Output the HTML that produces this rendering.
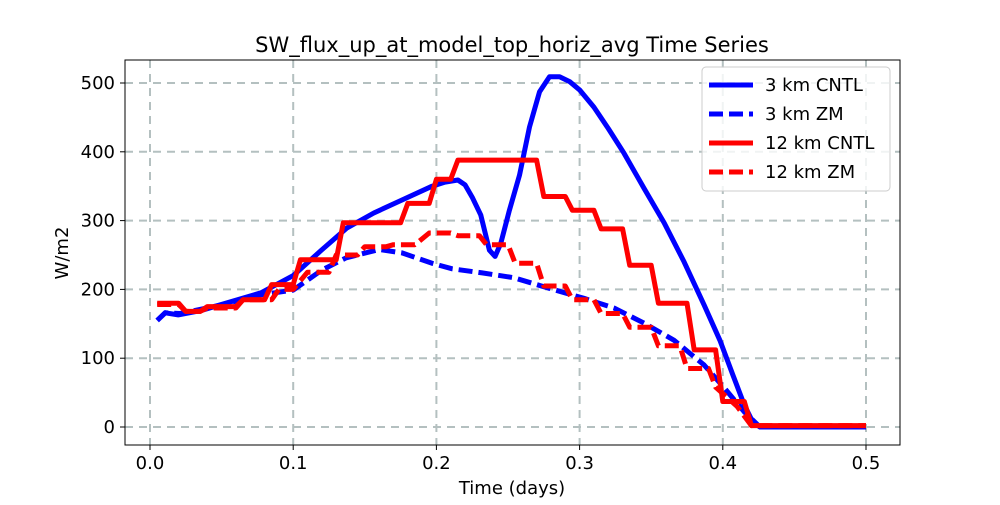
<!DOCTYPE html>
<html><head><meta charset="utf-8">
<style>
body{margin:0;background:#fff;font-family:"Liberation Sans","DejaVu Sans",sans-serif}
svg text{font-family:"DejaVu Sans","Liberation Sans",sans-serif}
</style></head>
<body>
<svg id="chart" width="1000" height="500" viewBox="0 0 1000 500" xmlns="http://www.w3.org/2000/svg">
<rect x="0" y="0" width="1000" height="500" fill="#fff"/>
<text x="512" y="52" font-size="21" text-anchor="middle">SW_flux_up_at_model_top_horiz_avg Time Series</text>
<g id="grid"></g>
<g id="series"></g>
<rect x="125" y="60" width="775" height="385" fill="none" stroke="#000" stroke-width="1"/>
<g id="ticks"></g>
<text x="512" y="494" font-size="18" text-anchor="middle">Time (days)</text>
<text x="68" y="253" font-size="18" text-anchor="middle" transform="rotate(-90 68 253)">W/m2</text>
<g id="legend">
<rect x="702" y="67" width="188" height="124" rx="4" fill="#fff" fill-opacity="0.8" stroke="#ccc"/>
<g><line x1="709" y1="85" x2="753" y2="85" stroke="#0000ff" stroke-width="5"/><text x="765" y="91" font-size="18">3 km CNTL</text></g>
<g><line x1="709" y1="114" x2="753" y2="114" stroke="#0000ff" stroke-width="5" stroke-dasharray="14 6"/><text x="765" y="120" font-size="18">3 km ZM</text></g>
<g><line x1="709" y1="143" x2="753" y2="143" stroke="#ff0000" stroke-width="5"/><text x="765" y="149" font-size="18">12 km CNTL</text></g>
<g><line x1="709" y1="172" x2="753" y2="172" stroke="#ff0000" stroke-width="5" stroke-dasharray="14 6"/><text x="765" y="178" font-size="18">12 km ZM</text></g>
</g>
</svg>
<script>
const xTicks=[0,0.1,0.2,0.3,0.4,0.5];
const xTickLabels=["0.0","0.1","0.2","0.3","0.4","0.5"];
const yTicks=[0,100,200,300,400,500];
const yTickLabels=["0","100","200","300","400","500"];
const cntl3T=[.005,.0106,.0197,.0352,.0563,.0775,.1,.1197,.1373,.1563,.176,.197,.206,.215,.22,.225,.231,.237,.241,.245,.251,.258,.265,.272,.279,.286,.293,.3,.31,.32,.331,.345,.359,.373,.387,.398,.407,.415,.421,.426,.5];
const cntl3V=[155,166,163,169,182,195,220,257,289,311,330,350,356,359,352,334,308,257,248,267,315,366,436,487,509,509,502,490,465,434,398,347,297,240,177,126,76,32,7,0,0];
const zm3T=[.005,.0106,.021,.049,.077,.1,.12,.137,.16,.176,.197,.211,.232,.254,.278,.303,.324,.345,.366,.387,.401,.415,.426,.5];
const zm3V=[155,166,165,177,192,199,228,246,258,253,238,230,224,217,202,187,173,151,126,90,57,22,0,0];
const cntl12T=[.005,.02,.025,.035,.04,.06,.065,.08,.085,.1,.105,.13,.135,.175,.18,.195,.2,.21,.215,.27,.275,.29,.295,.31,.315,.33,.335,.35,.355,.375,.38,.395,.4,.415,.42,.5];
const cntl12V=[180,180,168,168,175,175,185,185,207,207,243,243,297,297,325,325,360,360,388,388,335,335,315,315,288,288,235,235,180,180,112,112,37,37,2,2];
const zm12T=[.005,.02,.025,.035,.04,.06,.065,.085,.09,.1,.11,.125,.13,.145,.15,.165,.17,.185,.195,.21,.215,.23,.235,.25,.255,.27,.275,.29,.295,.31,.315,.33,.335,.35,.355,.37,.375,.39,.395,.41,.42,.5];
const zm12V=[178,178,168,168,173,173,185,185,200,200,225,225,250,250,262,262,265,265,282,282,278,278,265,265,238,238,205,205,185,185,165,165,145,145,118,118,85,85,58,30,2,2];
const NS="http://www.w3.org/2000/svg";
const X=v=>150+v*1432, Y=v=>427-v*0.688;
function mk(t,a,p){const e=document.createElementNS(NS,t);for(const k in a)e.setAttribute(k,a[k]);p.appendChild(e);return e;}
const grid=document.getElementById('grid'),ticks=document.getElementById('ticks'),ser=document.getElementById('series');
xTicks.forEach((v,i)=>{
 const g=mk('line',{x1:X(v),x2:X(v),y1:60,y2:445,stroke:'#b4c0c0','stroke-width':2,'stroke-dasharray':'8 6'},grid);
 
 mk('line',{x1:X(v),x2:X(v),y1:445,y2:450,stroke:'#000'},ticks);
 const t=mk('text',{x:X(v),y:469,'font-size':18,'text-anchor':'middle'},ticks);t.textContent=xTickLabels[i];
 
});
yTicks.forEach((v,i)=>{
 const g=mk('line',{x1:125,x2:900,y1:Y(v),y2:Y(v),stroke:'#b4c0c0','stroke-width':2,'stroke-dasharray':'8 6'},grid);
 
 mk('line',{x1:120,x2:125,y1:Y(v),y2:Y(v),stroke:'#000'},ticks);
 const t=mk('text',{x:115,y:Y(v)+6,'font-size':18,'text-anchor':'end'},ticks);t.textContent=yTickLabels[i];
 
});
function line(T,V,c,dash,name){
 const d=T.map((t,i)=>(i?'L':'M')+X(t).toFixed(1)+' '+Y(V[i]).toFixed(1)).join(' ');
 const p=mk('path',{d:d,fill:'none',stroke:c,'stroke-width':5,'stroke-linejoin':'round'},ser);
 if(dash)p.setAttribute('stroke-dasharray','14 6');
 
}
line(cntl3T,cntl3V,'#0000ff',false,'line-3km-cntl');
line(zm3T,zm3V,'#0000ff',true,'line-3km-zm');
line(cntl12T,cntl12V,'#ff0000',false,'line-12km-cntl');
line(zm12T,zm12V,'#ff0000',true,'line-12km-zm');
</script>
</body></html>
